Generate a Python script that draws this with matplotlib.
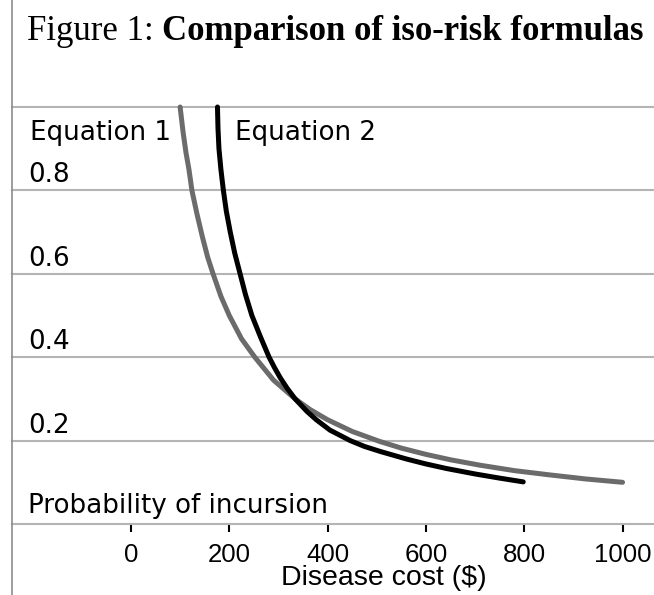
import numpy as np
import matplotlib
matplotlib.use("Agg")
import matplotlib.pyplot as plt
from matplotlib.lines import Line2D
import matplotlib.transforms as mtransforms

# valores
cost_eq1 = [100, 106, 112, 118, 124, 134, 145, 156, 167, 183, 200, 225, 252, 290,
            334, 365, 400, 450, 506, 550, 600, 650, 710, 780, 850, 925, 1000]
prob_eq1 = [1.0, 0.94, 0.89, 0.85, 0.80, 0.745, 0.69, 0.64, 0.60, 0.546, 0.50,
            0.444, 0.40, 0.345, 0.30, 0.274, 0.25, 0.222, 0.198, 0.182, 0.167,
            0.154, 0.141, 0.128, 0.118, 0.108, 0.10]

cost_eq2 = [176, 177, 179, 183, 188, 194, 202, 211, 222, 233, 246, 263, 281, 292,
            304, 318, 334, 358, 377, 405, 446, 475, 507, 560, 600, 642, 700, 750, 798]
prob_eq2 = [1.0, 0.95, 0.90, 0.85, 0.80, 0.75, 0.70, 0.65, 0.60, 0.55, 0.50,
            0.45, 0.40, 0.375, 0.35, 0.325, 0.30, 0.27, 0.25, 0.225, 0.20, 0.186,
            0.174, 0.156, 0.144, 0.133, 0.12, 0.11, 0.101]

xticks = [0, 200, 400, 600, 800, 1000]
yticks = [0.2, 0.4, 0.6, 0.8]
grid_levels = [0.2, 0.4, 0.6, 0.8, 1.0]

W, H = 654, 595
fig = plt.figure(figsize=(W / 100, H / 100), dpi=100)
ax = fig.add_axes([12 / W, (H - 524) / H, 642 / W, 417 / H])

grid_c = "#b4b4b4"
for g in grid_levels:
    ax.axhline(g, color=grid_c, lw=1.5, zorder=1, clip_on=False)

ax.plot(cost_eq1, prob_eq1, color="#6b6b6b", lw=3.6, solid_capstyle="round",
        solid_joinstyle="round", zorder=3, clip_on=False)
ax.plot(cost_eq2, prob_eq2, color="black", lw=3.6, solid_capstyle="round",
        solid_joinstyle="round", zorder=4, clip_on=False)

ax.set_xlim(-242, 1064)
ax.set_ylim(0, 1)

for s in ["top", "right", "left"]:
    ax.spines[s].set_visible(False)
ax.spines["bottom"].set_color(grid_c)
ax.spines["bottom"].set_linewidth(1.5)

ax.set_yticks([])
ax.set_xticks(xticks)
ax.set_xticklabels([str(t) for t in xticks], fontsize=18.6,
                   family=["Liberation Sans", "DejaVu Sans"])
ax.tick_params(axis="x", direction="out", length=6, width=1.5, color="black", pad=8)
ax.set_xlabel("Disease cost ($)", fontsize=20.5,
              family=["Liberation Sans", "DejaVu Sans"])
ax.xaxis.set_label_coords((383.5 - 12) / 642, (524 - 578) / 417)
ax.xaxis.label.set_va("center")

trans = mtransforms.blended_transform_factory(ax.transAxes, ax.transData)
fs = 18.8
for t in yticks:
    ax.text(16 / 642, t + 0.036, f"{t:.1f}", transform=trans, fontsize=fs,
            ha="left", va="center")
ax.text(16 / 642, 0.043, "Probability of incursion", transform=trans,
        fontsize=fs, ha="left", va="center")
ax.text(18 / 642, 1.0 - 0.062, "Equation 1", transform=trans, fontsize=fs,
        ha="left", va="center")
ax.text(223 / 642, 1.0 - 0.062, "Equation 2", transform=trans, fontsize=fs,
        ha="left", va="center")

# linea vertical izquierda que cruza toda la figura
fig.add_artist(Line2D([12 / W, 12 / W], [0, 1], transform=fig.transFigure,
                      color="#8c8c8c", lw=1.2))

# titulo: parte normal + parte en negrita
t1 = fig.text(27 / W, 1 - 40 / H, "Figure 1: ", family="Liberation Serif",
              fontsize=25, ha="left", va="baseline")
fig.canvas.draw()
bb = t1.get_window_extent()
fig.text(bb.x1 / W, 1 - 40 / H, "Comparison of iso-risk formulas",
         family="Liberation Serif", fontweight="bold", fontsize=25,
         ha="left", va="baseline")

fig.savefig("out.png", dpi=100)
